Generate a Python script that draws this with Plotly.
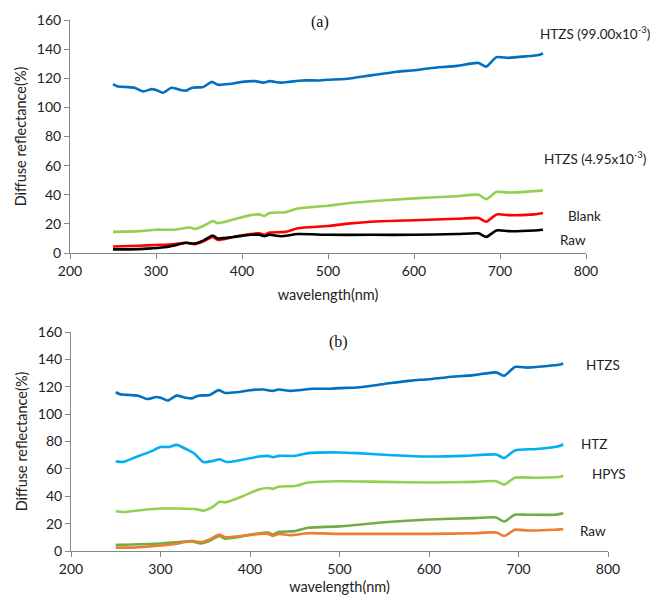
import plotly.graph_objects as go

W, H = 654, 595

# ---- panel (a) data ----
wl_htzs = [250, 255, 265, 275, 285, 295, 300, 308, 318, 328, 335, 342, 355, 365, 372, 385, 400, 415, 425,
           432, 445, 455, 470, 490, 500, 520, 550, 580, 600, 620, 650, 675, 684, 696, 710, 730, 745, 750]
htzs_99 = [116, 114.5, 114, 113.5, 111, 112.5, 112, 110, 113.5, 112, 111.5, 113.5, 114, 117.5, 115.5, 116,
           117.5, 118, 117, 118, 117, 117.5, 118.5, 118.5, 119, 119.5, 122, 124.5, 125.5, 127, 128.5, 130.5,
           128, 134.5, 134, 135, 136, 137]

wl_g = [250, 280, 300, 320, 340, 345, 355, 366, 372, 390, 410, 420, 426, 432, 450, 465, 480, 500, 520, 550,
        600, 650, 675, 684, 696, 710, 740, 750]
htzs_495 = [14.5, 15, 16, 16, 17.5, 16.5, 18.5, 22, 20.5, 23, 26, 26.5, 25.5, 27.5, 28, 30.5, 31.5, 32.5, 34,
            35.5, 37.5, 39, 40, 37, 42, 41.5, 42.5, 43]

wl_blank = [250, 280, 300, 320, 335, 345, 355, 366, 372, 390, 410, 420, 426, 432, 450, 465, 500, 520, 550, 600,
            650, 675, 684, 696, 710, 740, 750]
blank = [4.5, 5, 5.5, 6, 7, 6, 8, 11, 9, 11, 13, 13.5, 12.5, 14, 14.5, 17, 18.5, 20, 21.5, 22.5, 23.5, 24,
         21.5, 26.5, 26, 26.5, 27.5]

wl_raw = [250, 270, 290, 310, 320, 335, 345, 355, 366, 372, 390, 410, 420, 426, 432, 445, 465, 500, 550, 600,
          650, 675, 684, 696, 710, 740, 750]
raw = [2.5, 2.5, 3, 4, 5, 7, 6.5, 8.5, 12, 10, 11, 12.5, 12.5, 11.5, 12.5, 11.5, 13, 12.5, 12.5, 12.5, 13,
       13.5, 11, 15.5, 15, 15.5, 16]

# ---- panel (b) data ----
wl_htz = [250, 258, 270, 290, 300, 310, 318, 330, 338, 348, 360, 366, 374, 390, 410, 420, 426, 432, 450, 465,
          500, 520, 560, 600, 640, 675, 684, 696, 720, 745, 750]
htz = [65.5, 65, 68, 73, 76, 76, 77.5, 74, 71, 65, 66, 67, 65, 66.5, 69, 69.5, 68.5, 69.5, 69.5, 71.5, 72,
       71.5, 70, 69, 69.5, 70.5, 68, 73.5, 74.5, 76.5, 78]

wl_hpys = [250, 258, 280, 300, 320, 340, 348, 358, 366, 372, 390, 410, 420, 426, 432, 450, 465, 500, 550, 600,
           650, 675, 684, 696, 720, 745, 750]
hpys = [29, 28.5, 30, 31, 31, 30.5, 29.5, 32, 36, 35.5, 39.5, 45, 46, 45.5, 47, 47.5, 50, 51, 50.5, 50, 50.5,
        51, 48.5, 53.5, 53.5, 54, 55]

wl_dg = [250, 300, 335, 345, 355, 366, 372, 390, 410, 420, 426, 432, 450, 465, 500, 550, 600, 650, 675, 684,
         696, 710, 740, 750]
dgreen = [4.5, 5.5, 7, 5.5, 7.5, 11, 9, 10.5, 13, 13.5, 12, 14, 14.5, 17, 18, 21, 23, 24, 24.5, 21.5, 26.5,
          26.5, 26.5, 27.5]

wl_or = [250, 270, 300, 320, 335, 345, 355, 366, 372, 390, 410, 420, 426, 432, 445, 465, 500, 550, 600, 650,
         675, 684, 696, 710, 740, 750]
orange = [2.5, 2.5, 4, 5.5, 7.5, 6.5, 8.5, 12, 10, 11, 12.5, 12.5, 11, 12.5, 11.5, 13, 12.5, 12.5, 12.5, 13,
          13.5, 11, 15.5, 15, 15.5, 16]

x_ticks = [200, 300, 400, 500, 600, 700, 800]
y_ticks = [0, 20, 40, 60, 80, 100, 120, 140, 160]

FONT = "Lato"
LW = 2.6

fig = go.Figure()


def add(x, y, color, xa, ya):
    fig.add_trace(go.Scatter(x=x, y=y, mode="lines", xaxis=xa, yaxis=ya, showlegend=False,
                             line=dict(color=color, width=LW, shape="spline", smoothing=0.6),
                             hoverinfo="x+y"))


# panel (a)
add(wl_htzs, htzs_99, "#0070C0", "x", "y")
add(wl_g, htzs_495, "#92D050", "x", "y")
add(wl_blank, blank, "#FF0000", "x", "y")
add(wl_raw, raw, "#000000", "x", "y")
# panel (b)
add(wl_htzs, htzs_99, "#0070C0", "x2", "y2")
add(wl_htz, htz, "#00B0F0", "x2", "y2")
add(wl_hpys, hpys, "#92D050", "x2", "y2")
add(wl_dg, dgreen, "#70AD47", "x2", "y2")
add(wl_or, orange, "#ED7D31", "x2", "y2")


def px(x):
    return x / W


def py(y):
    return 1 - y / H


axis_common = dict(showgrid=False, zeroline=False, showline=True, linecolor="#888888", linewidth=1,
                   ticks="outside", ticklen=5, tickcolor="#888888", automargin=False,
                   tickfont=dict(family=FONT, size=14, color="#222222"))

title_font = dict(family=FONT, size=14.5, color="#222222")
xa = dict(axis_common, range=[200, 800], tickvals=x_ticks,
          title=dict(text="wavelength(nm)", font=title_font, standoff=12))
ya = dict(axis_common, range=[0, 160], tickvals=y_ticks,
          title=dict(text="Diffuse reflectance(%)", font=title_font, standoff=6))

fig.update_layout(
    template="none",
    width=W, height=H,
    margin=dict(l=0, r=0, t=0, b=0),
    paper_bgcolor="white", plot_bgcolor="white",
    xaxis=dict(xa, domain=[px(70), px(586)], anchor="y"),
    yaxis=dict(ya, domain=[py(253), py(20)], anchor="x"),
    xaxis2=dict(xa, domain=[px(71), px(608)], anchor="y2"),
    yaxis2=dict(ya, domain=[py(551), py(332)], anchor="x2"),
)

ann_font = dict(family=FONT, size=13.5, color="#222222")
labels = [
    ("(a)", 320, 22, dict(family="Liberation Serif", size=16, color="#111111")),
    ("(b)", 338, 342, dict(family="Liberation Serif", size=16, color="#111111")),
    ("HTZS (99.00x10<sup>-3</sup>)", 595, 33, ann_font),
    ("HTZS (4.95x10<sup>-3</sup>)", 595, 158, ann_font),
    ("Blank", 584, 216, ann_font),
    ("Raw", 573, 240, ann_font),
    ("HTZS", 603, 365, ann_font),
    ("HTZ", 594, 444, ann_font),
    ("HPYS", 609, 474, ann_font),
    ("Raw", 593, 531, ann_font),
]
for text, x, y, f in labels:
    fig.add_annotation(text=text, x=px(x), y=py(y), xref="paper", yref="paper",
                       showarrow=False, xanchor="center", yanchor="middle", font=f)

fig.write_html("out.html")
